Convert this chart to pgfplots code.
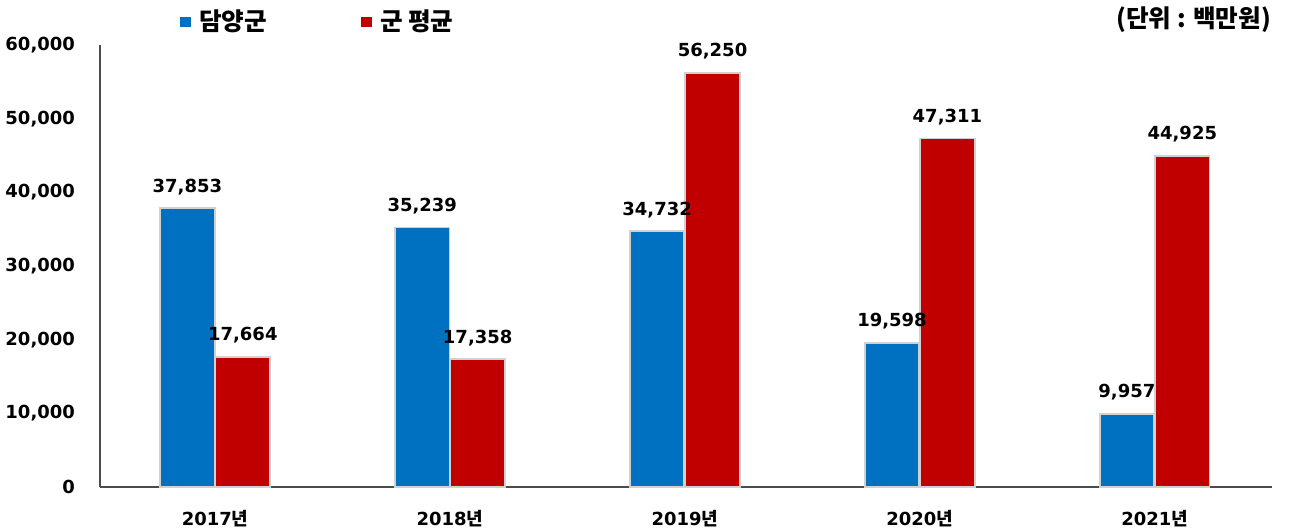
\documentclass[border=0pt]{standalone}
\usepackage{pgfplots}
\pgfplotsset{compat=1.18}
\usepackage{fontspec}
\setmainfont{DejaVu Sans}
\newfontfamily\cjk{Noto Sans CJK KR}
\definecolor{bblue}{RGB}{0,112,192}
\definecolor{bred}{RGB}{192,0,0}
\begin{document}
\begin{tikzpicture}
\path[use as bounding box] (-50pt,-22pt) rectangle (594.5pt,243.5pt);
\begin{axis}[
    at={(0,0)}, anchor=south west,
    scale only axis, width=586pt, height=221pt,
    ybar, bar width=0.232,
    xmin=-0.49, xmax=4.5,
    ymin=0, ymax=60000,
    ytick={0,10000,...,60000},
    xtick={0,1,2,3,4},
    xticklabels={{\bfseries 2017{\cjk 년}},{\bfseries 2018{\cjk 년}},{\bfseries 2019{\cjk 년}},{\bfseries 2020{\cjk 년}},{\bfseries 2021{\cjk 년}}},
    scaled y ticks=false,
    /pgf/number format/1000 sep={,},
    /pgf/number format/assume math mode=true,
    axis x line*=bottom, axis y line*=left,
    axis line style={black!70, line width=0.8pt, -},
    major tick length=0pt,
    yticklabel style={font=\bfseries\fontsize{9}{10}\selectfont, xshift=-9pt},
    xticklabel style={font=\fontsize{9}{10}\selectfont, yshift=-8pt},
    nodes near coords,
    nodes near coords style={font=\bfseries\fontsize{9}{10}\selectfont, yshift=3pt},
    legend style={draw=none, fill=none, at={(37pt,232.5pt)}, anchor=west,
        legend columns=2, font=\cjk\bfseries\fontsize{12.3}{13}\selectfont,
        /tikz/every even column/.append style={column sep=45pt}},
    legend image code/.code={\fill[#1, draw=none] (0pt,-2.6pt) rectangle (5.2pt,2.6pt); \path (7pt,0pt);},
    clip=false,
]
\addplot[fill=bblue, draw=black!18, line width=0.9pt, bar shift=-0.118] coordinates {(0,37853) (1,35239) (2,34732) (3,19598) (4,9957)};
\addplot[fill=bred, draw=black!18, line width=0.9pt, bar shift=0.118] coordinates {(0,17664) (1,17358) (2,56250) (3,47311) (4,44925)};
\legend{담양군, 군 평균}
\node[anchor=east, font=\cjk\bfseries\fontsize{12.3}{13}\selectfont] at (rel axis cs:1,1) [yshift=12.5pt, xshift=3pt] {(단위 : 백만원)};
\end{axis}
\end{tikzpicture}
\end{document}
